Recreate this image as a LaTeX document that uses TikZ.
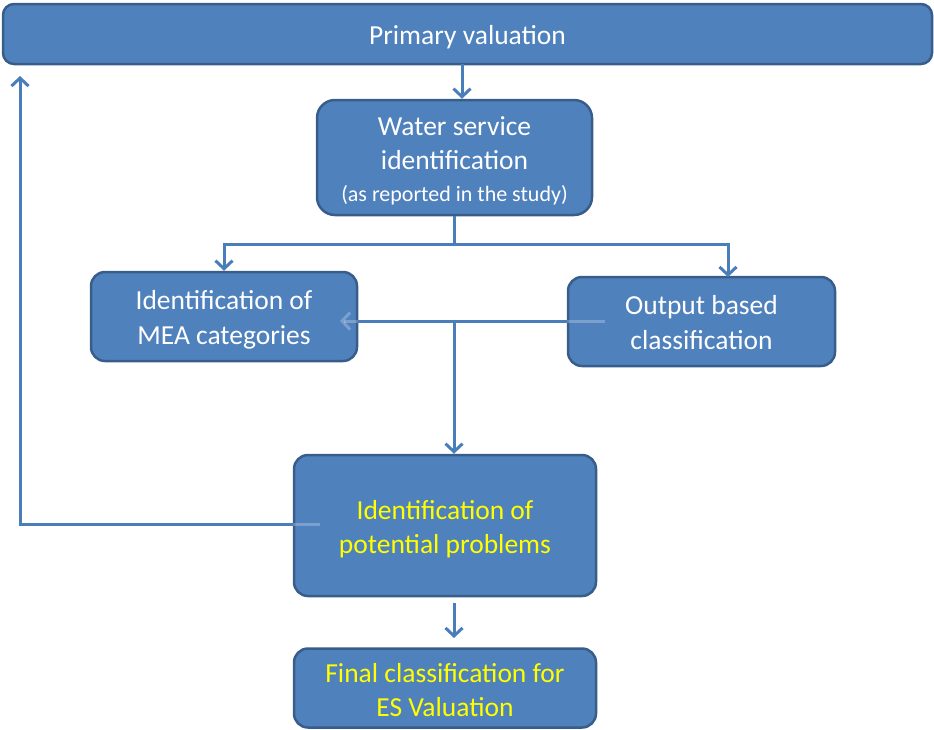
\documentclass[tikz,border=0pt]{standalone}
\usepackage{fontspec}
\setmainfont{Carlito}
\usetikzlibrary{arrows.meta}
\definecolor{boxfill}{HTML}{4F81BD}
\definecolor{boxline}{HTML}{385D8A}
\definecolor{connc}{HTML}{4A7EBB}
\definecolor{ytext}{HTML}{FFFF00}
\begin{document}
\begin{tikzpicture}[x=1pt,y=-1pt,
  box/.style={draw=boxline, line width=2.5pt, fill=boxfill, rounded corners=14pt, inner sep=0pt},
  txt/.style={inner sep=0pt, align=center, text=white, font=\fontsize{27.5}{34.5}\selectfont},
  conn/.style={draw=connc, line width=3pt},
  faint/.style={draw=white, line width=3pt, draw opacity=0.25},
  tip/.style={-{Straight Barb[length=8pt,width=17pt]}}]
\useasboundingbox (0,0) rectangle (934,729);
% free connector ends
\coordinate (t1) at (462,64);
\coordinate (j1) at (454.5,244);
\coordinate (oa) at (728,277);
\coordinate (hr) at (605,321);
\coordinate (hl) at (340,321);
\coordinate (j2) at (454,321);
\coordinate (lp) at (320,524);
\coordinate (lc) at (20,524);
\coordinate (lt) at (20,76);
\coordinate (b1) at (454,603);
\coordinate (b2) at (454,638);
% boxes
\node[box, rounded corners=11pt, minimum width=929pt, minimum height=60pt] (prim) at (467.5,34) {};
\node[box, rounded corners=18pt, minimum width=275pt, minimum height=115pt] (water) at (454.5,157.5) {};
\node[box, minimum width=266pt, minimum height=89pt] (mea) at (224,316.5) {};
\node[box, minimum width=267pt, minimum height=89pt] (out) at (701.5,321.5) {};
\node[box, minimum width=302pt, minimum height=141pt] (prob) at (445,525.5) {};
\node[box, minimum width=302pt, minimum height=79pt] (final) at (445,688) {};
% connectors
\draw[conn,tip] (t1) -- (t1 |- water.north);
\draw[conn,tip] (water.south) -- (j1) -| (mea.north);
\draw[conn,tip] (j1) -| (oa);
\draw[conn] (out.west |- hr) -- (mea.east |- hl);
\draw[faint] (hr) -- (out.west |- hr);
\draw[faint,tip] (mea.east |- hl) -- (hl);
\draw[conn,tip] (j2) -- (j2 |- prob.north);
\draw[conn,tip] (prob.west |- lp) -- (lc) -- (lt);
\draw[faint] (lp) -- (prob.west |- lp);
\draw[conn,tip] (b1) -- (b2);
% texts
\node[txt, yshift=-3pt] (primt) at (prim.center) {Primary valuation};
\node[txt, yshift=-3pt] (watert) at (water.center)
  {Water service\\identification\\[-3pt]{\fontsize{22}{26}\selectfont (as reported in the study)}};
\node[txt, yshift=-3.5pt] (meat) at (mea.center) {Identification of\\MEA categories};
\node[txt, yshift=-1pt] (outt) at (out.center) {Output based\\classification};
\node[txt, text=ytext, yshift=-3.5pt] (probt) at (prob.center) {Identification of\\potential problems};
\node[txt, text=ytext, yshift=-2pt] (finalt) at (final.center) {Final classification for\\ES Valuation};
\end{tikzpicture}
\end{document}
